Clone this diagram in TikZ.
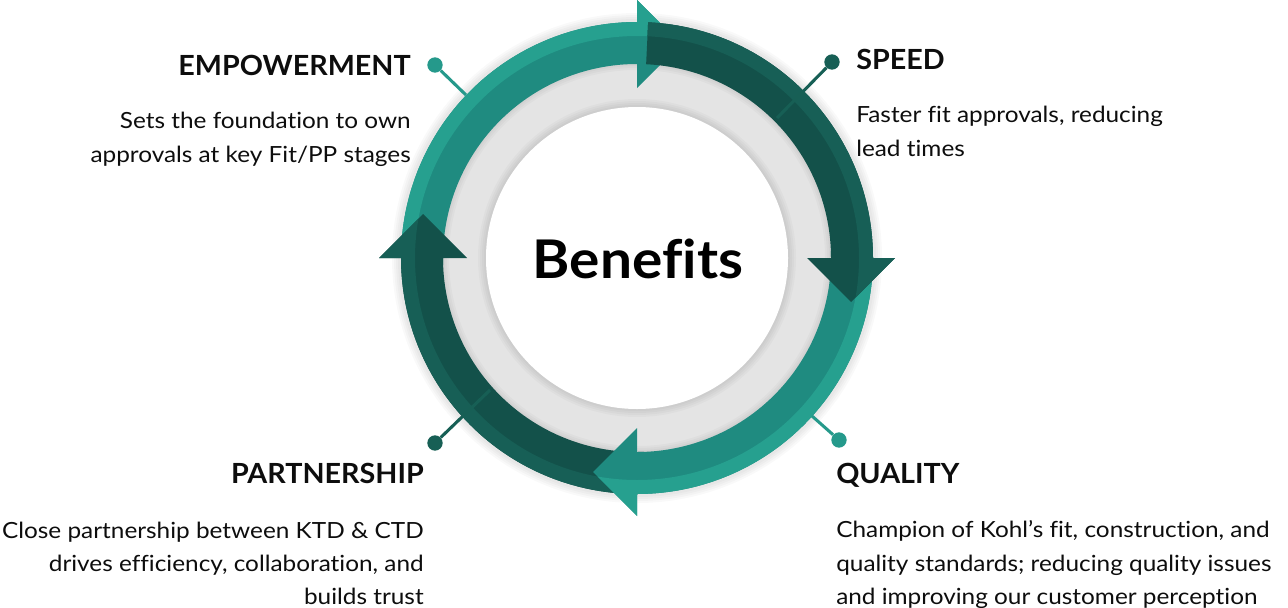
\documentclass[tikz,border=0pt]{standalone}
\usepackage{fontspec}
\setmainfont{Lato}
\newfontfamily\bodyfont[FakeStretch=1.094, Ligatures=NoCommon]{Lato}
\newfontfamily\titlefont[FakeStretch=1.035, Ligatures=NoCommon]{Lato}
\newfontfamily\bigfont[FakeStretch=1.065, Ligatures=NoCommon]{Lato}
\usetikzlibrary{calc}
\definecolor{tealM}{HTML}{1F8B80}
\definecolor{tealL}{HTML}{26A08F}
\definecolor{darkM}{HTML}{13514A}
\definecolor{darkL}{HTML}{175F56}
\definecolor{ringgray}{HTML}{E4E4E4}
\definecolor{dotteal}{HTML}{25998B}
\definecolor{dotdark}{HTML}{175F55}
\definecolor{ink}{HTML}{0D0D0D}
\newcommand\ringarrow[4]{%
  \def\arrowpath{($(C)+(#1:194)$) arc[start angle=#1, end angle=#2, radius=194]
    -- ($(C)+(#2:170)$) -- ($(C)+(#2:214)+({#2+90}:44)$) -- ($(C)+(#2:258)$)
    -- ($(C)+(#2:236)$) arc[start angle=#2, end angle=#1, radius=236] -- cycle}%
  \fill[#3] \arrowpath;
  \begin{scope}
    \clip \arrowpath;
    \fill[#4, even odd rule] (C) circle[radius=222] circle[radius=300];
  \end{scope}%
}
\begin{document}
\begin{tikzpicture}[x=0.75pt,y=-0.75pt,
  titletext/.style={font=\titlefont\bfseries\fontsize{20.8}{25}\selectfont, inner sep=0, text=ink},
  bodytext/.style={font=\bodyfont\fontsize{16.7}{20}\selectfont, inner sep=0, text=ink},
  dotnode/.style={circle, minimum size=11.5pt, inner sep=0},
  link/.style={line width=2.3pt}]
\useasboundingbox (0,0) rectangle (1288,607);
\coordinate (C) at (637,258);

% outer soft shadow
\foreach \k in {9,7,5,3}{\fill[black, opacity=0.025] (C) circle[radius={236+\k}];}
% gray disc
\fill[ringgray] (C) circle[radius=196];
% shadow cast by band onto gray
\foreach \k in {8,6,4,2}{\fill[black, opacity=0.025, even odd rule] (C) circle[radius={196-\k}] circle[radius=196];}
% shadow around white circle
\foreach \k in {8,6,4,2}{\fill[black, opacity=0.025] (C) circle[radius={151+\k}];}
\fill[white] (C) circle[radius=151];

% ring arrows (draw order matters)
\ringarrow{178}{270}{tealM}{tealL}
\ringarrow{88}{180}{darkM}{darkL}
\ringarrow{-2}{90}{tealM}{tealL}
\ringarrow{272.7}{360}{darkM}{darkL}

\node[font=\bigfont\bfseries\fontsize{40}{48}\selectfont, text=black, inner sep=0, anchor=base] (ben) at (638,278) {Benefits};

% connectors
\node[dotnode, fill=dotteal] (d1) at (435,65) {};
\coordinate (r1) at (466,95);
\draw[link, dotteal] (d1) -- (r1);
\node[dotnode, fill=dotdark] (d2) at (832,62) {};
\coordinate (r2) at (777,118);
\draw[link, dotdark] (d2) -- (r2);
\node[dotnode, fill=dotteal] (d3) at (839,440) {};
\coordinate (r3) at (812,416);
\draw[link, dotteal] (d3) -- (r3);
\node[dotnode, fill=dotdark] (d4) at (435,443) {};
\coordinate (r4) at (490,390);
\draw[link, dotdark] (d4) -- (r4);

% texts
\node[titletext, anchor=base east] (t1) at (411,75) {EMPOWERMENT};
\node[bodytext, anchor=base east] (b11) at (411,128) {Sets the foundation to own};
\node[bodytext, anchor=base east] (b12) at (411,162) {approvals at key Fit/PP stages};

\node[titletext, anchor=base west] (t2) at (856,69) {SPEED};
\node[bodytext, anchor=base west] (b21) at (856,122) {Faster fit approvals, reducing};
\node[bodytext, anchor=base west] (b22) at (856,156) {lead times};

\node[titletext, anchor=base west] (t3) at (836,483) {QUALITY};
\node[bodytext, anchor=base west] (b31) at (836,537) {Champion of Kohl’s fit, construction, and};
\node[bodytext, anchor=base west] (b32) at (836,571) {quality standards; reducing quality issues};
\node[bodytext, anchor=base west] (b33) at (836,604) {and improving our customer perception};

\node[titletext, anchor=base east] (t4) at (424,483) {PARTNERSHIP};
\node[bodytext, anchor=base east] (b41) at (424,538) {Close partnership between KTD \& CTD};
\node[bodytext, anchor=base east] (b42) at (424,571) {drives efficiency, collaboration, and};
\node[bodytext, anchor=base east] (b43) at (424,604) {builds trust};
\end{tikzpicture}
\end{document}
